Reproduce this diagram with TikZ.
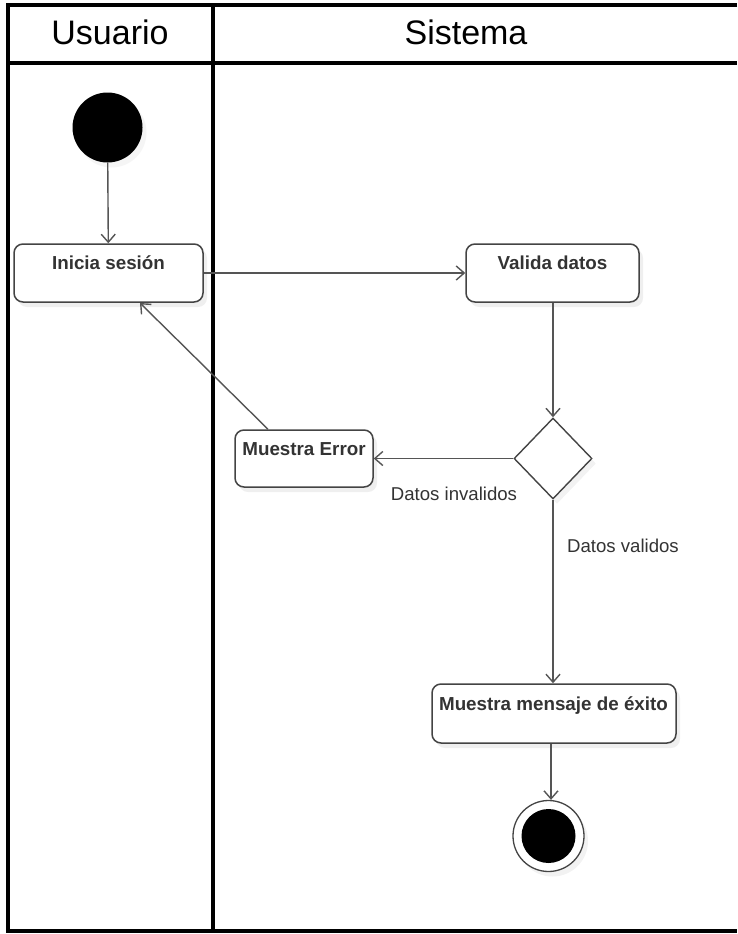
\documentclass[tikz,border=0pt]{standalone}
\usepackage{fontspec}
\setmainfont{Liberation Sans}
\usetikzlibrary{shapes.geometric,arrows.meta,shadows}
\definecolor{edge}{HTML}{444444}
\definecolor{flow}{HTML}{555555}
\definecolor{note}{HTML}{333333}
\tikzset{
  lane/.style={line width=4pt, black},
  actbox/.style={draw=edge, line width=1.5pt, rounded corners=9pt, fill=white,
    drop shadow={shadow xshift=4pt, shadow yshift=-5pt, opacity=0.12}},
  acttext/.style={font=\bfseries\fontsize{18.8}{21}\selectfont, text=note, anchor=base, inner sep=0pt},
  guard/.style={font=\fontsize{18.6}{21}\selectfont, text=note, anchor=base, inner sep=0pt},
  header/.style={font=\fontsize{34}{38}\selectfont, anchor=base, inner sep=0pt},
  flowline/.style={draw=flow, line width=1.4pt, -{Straight Barb[length=8pt,width=14pt,line width=1.4pt]}},
}
\begin{document}
\begin{tikzpicture}[x=1pt,y=-1pt]
\useasboundingbox (0,0) rectangle (737,934);
\fill[white] (0,0) rectangle (737,934);

% swimlane frame
\draw[lane] (737,5) -- (8,5) -- (8,931) -- (737,931);
\draw[lane] (8,63) -- (737,63);
\draw[lane] (213,5) -- (213,931);
\node[header] (hu) at (110,45) {Usuario};
\node[header] (hs) at (466,45) {Sistema};

% initial node
\node[circle, fill=black, minimum size=70pt, inner sep=0pt,
  drop shadow={shadow xshift=4pt, shadow yshift=-5pt, opacity=0.08}] (start) at (107.5,127.5) {};

% actions
\node[actbox, minimum width=189pt, minimum height=58pt] (ini) at (108.5,273) {};
\node[acttext] (tini) at (108.5,269) {Inicia sesión};

\node[actbox, minimum width=173pt, minimum height=58pt] (val) at (552.5,273) {};
\node[acttext] (tval) at (552.5,269) {Valida datos};

\node[actbox, minimum width=138pt, minimum height=57pt] (err) at (304,458.5) {};
\node[acttext] (terr) at (304,455) {Muestra Error};

\node[actbox, minimum width=244pt, minimum height=59pt] (ok) at (554,713.5) {};
\node[acttext] (tok) at (553.5,710) {Muestra mensaje de éxito};

% decision
\node[diamond, draw=edge, line width=1.4pt, fill=white, minimum width=78pt, minimum height=81pt,
  inner sep=0pt, drop shadow={shadow xshift=4pt, shadow yshift=-5pt, opacity=0.1}] (dec) at (553,458.5) {};

% final node
\node[circle, draw=edge, line width=1.3pt, fill=white, minimum size=71pt, inner sep=0pt,
  drop shadow={shadow xshift=4pt, shadow yshift=-5pt, opacity=0.1}] (fin) at (548.5,836) {};
\node[circle, fill=black, minimum size=54pt, inner sep=0pt] (finc) at (fin.center) {};

% flows
\draw[flowline] (start) -- (ini);
\draw[flowline] (ini.east |- 0,273) -- (val.west |- 0,273);
\draw[flowline] (val.south -| dec.north) -- (dec.north);
\draw[flowline] (dec.west) -- (err.east |- dec.west);
\draw[flowline] (dec.south) -- (ok.north -| dec.south);
\draw[flowline] (ok.south -| 551,0) -- (fin.north -| 551,0);
\draw[flowline] (err.north -| 268,0) -- (140,303);

\node[guard] (ginv) at (454,500.5) {Datos invalidos};
\node[guard] (gval) at (623,552) {Datos validos};
\end{tikzpicture}
\end{document}
